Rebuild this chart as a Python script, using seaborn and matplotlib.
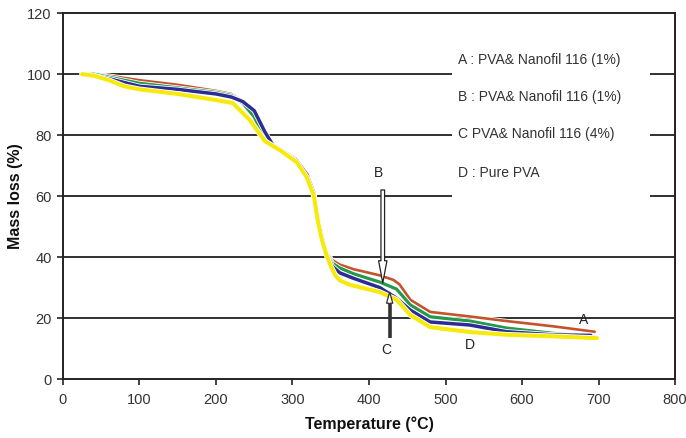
import numpy as np
import pandas as pd
import matplotlib
matplotlib.use("Agg")
import matplotlib.pyplot as plt
import matplotlib.patches as mpatches
import matplotlib.patheffects as pe
import seaborn as sns

# TGA curves: temperature (°C) vs residual mass (%)
temp_a = [25, 40, 60, 100, 150, 200, 220, 235, 250, 264, 275, 290, 306, 319, 328, 333, 338, 344, 352, 362, 380, 414, 432, 440, 454, 480, 532, 580, 640, 695]
mass_a = [100, 100, 99.5, 98, 96.5, 94.5, 93.5, 91, 87, 80, 77, 74.5, 72, 67, 61, 53, 47, 42, 39, 37.5, 36, 34, 32.5, 31, 26, 22, 20.5, 19, 17.3, 15.5]

temp_b = [25, 40, 60, 100, 150, 200, 220, 235, 250, 264, 275, 290, 306, 319, 328, 333, 338, 344, 352, 362, 380, 414, 436, 454, 480, 532, 580, 640, 690]
mass_b = [100, 99.5, 98.5, 96, 95, 93.5, 92.5, 91, 88, 81, 76.5, 74, 71.5, 67, 61, 53, 47, 41.5, 37, 34.8, 33, 30, 26.5, 22.6, 18.7, 17.7, 15.5, 14.5, 14.3]

temp_c = [25, 40, 60, 100, 150, 200, 220, 235, 250, 262, 275, 290, 306, 319, 328, 333, 338, 344, 352, 362, 380, 414, 436, 454, 480, 532, 580, 640, 695]
mass_c = [100, 100, 99, 97, 95.5, 94, 93, 90.5, 86, 79.5, 76.5, 74, 71.5, 67, 61, 53, 47, 42, 38, 36.4, 34.5, 31.8, 29.5, 24.3, 20.4, 19, 16.7, 15, 13.8]

temp_d = [25, 40, 60, 80, 100, 150, 200, 222, 244, 264, 284, 306, 319, 328, 333, 338, 344, 350, 356, 362, 375, 414, 436, 454, 480, 532, 580, 640, 698]
mass_d = [100, 99.5, 98, 96, 95, 93.5, 91.5, 90.5, 85, 78, 75, 71, 66, 60, 52, 46, 41, 37, 34, 32.3, 30.9, 28.5, 26, 21, 17, 15.4, 14.5, 14, 13.4]

series_names = ["A", "C", "B", "D"]
series_colors = {"A": "#c4532c", "B": "#2b2c96", "C": "#25984c", "D": "#f6ea0a"}
series_widths = {"A": 1.9, "B": 2.5, "C": 2.3, "D": 2.9}

legend_lines = ["A : PVA& Nanofil 116 (1%)",
                "B : PVA& Nanofil 116 (1%)",
                "C PVA& Nanofil 116 (4%)",
                "D : Pure PVA"]
legend_y = [104.6, 92.5, 80.3, 67.5]

x_ticks = [0, 100, 200, 300, 400, 500, 600, 700, 800]
y_ticks = [0, 20, 40, 60, 80, 100, 120]

frames = []
for name, t, m in [("A", temp_a, mass_a), ("B", temp_b, mass_b),
                   ("C", temp_c, mass_c), ("D", temp_d, mass_d)]:
    frames.append(pd.DataFrame({"Temperature": t, "Mass": m, "Sample": name}))
df = pd.concat(frames, ignore_index=True)

sns.set_theme(style="white")
plt.rcParams["font.family"] = ["Liberation Sans", "DejaVu Sans"]

fig = plt.figure(figsize=(6.86, 4.38), dpi=100)
ax = fig.add_axes([0.0918, 0.1347, 0.8922, 0.8353])

# horizontal grid
for yv in y_ticks[1:-1]:
    ax.axhline(yv, color="#202020", lw=1.3, zorder=1)

# white panel behind the key text
ax.add_patch(mpatches.Rectangle((508, 58.7), 259, 50.8, facecolor="white",
                                edgecolor="none", zorder=1.5))

for name in series_names:
    sub = df[df["Sample"] == name]
    sns.lineplot(data=sub, x="Temperature", y="Mass", ax=ax, sort=False,
                 color=series_colors[name], lw=series_widths[name],
                 legend=False, zorder=3)
    line = ax.lines[-1]
    line.set_solid_joinstyle("round")
    line.set_path_effects([pe.Stroke(linewidth=series_widths[name] + 1.2,
                                     foreground="white"), pe.Normal()])

for txt, yv in zip(legend_lines, legend_y):
    ax.text(516, yv, txt, fontsize=10, color="#333333", va="center", ha="left", zorder=4)

# hollow arrow marking B
arr_b = mpatches.FancyArrowPatch((418, 62), (418, 31.5),
                                 arrowstyle="simple,head_width=6,head_length=16,tail_width=2.6",
                                 facecolor="white", edgecolor="#222222", lw=0.9,
                                 mutation_scale=1, zorder=5, shrinkA=0, shrinkB=0)
ax.add_patch(arr_b)
ax.text(412, 67.5, "B", fontsize=10, color="#222222", ha="center", va="center")

# solid arrow marking C
ax.plot([427, 427], [13.4, 25.0], color="#333333", lw=2.6, solid_capstyle="butt", zorder=5)
arr_c = mpatches.FancyArrowPatch((427, 24.5), (427, 28.5),
                                 arrowstyle="simple,head_width=4.5,head_length=8,tail_width=1",
                                 facecolor="white", edgecolor="#333333", lw=0.9,
                                 mutation_scale=1, zorder=5, shrinkA=0, shrinkB=0)
ax.add_patch(arr_c)
ax.text(423, 9.5, "C", fontsize=10, color="#222222", ha="center", va="center")
ax.text(532, 11.3, "D", fontsize=10, color="#222222", ha="center", va="center")
ax.text(680, 19.5, "A", fontsize=10, color="#222222", ha="center", va="center")

ax.set_xlim(0, 800)
ax.set_ylim(0, 120)
ax.set_xticks(x_ticks)
ax.set_yticks(y_ticks)
ax.tick_params(axis="both", direction="out", length=4, width=1.2, color="#222222",
               labelsize=10.5, labelcolor="#333333", bottom=True, left=True, pad=4)
ax.tick_params(axis="x", pad=6)
for sp in ax.spines.values():
    sp.set_color("#222222")
    sp.set_linewidth(1.4)
ax.set_xlabel("Temperature (°C)", fontsize=11.5, fontweight="bold", color="#111111", labelpad=7)
ax.set_ylabel("Mass loss (%)", fontsize=11.5, fontweight="bold", color="#111111")
ax.yaxis.set_label_coords(-0.066, 0.5)

fig.savefig("out.png", dpi=100)
